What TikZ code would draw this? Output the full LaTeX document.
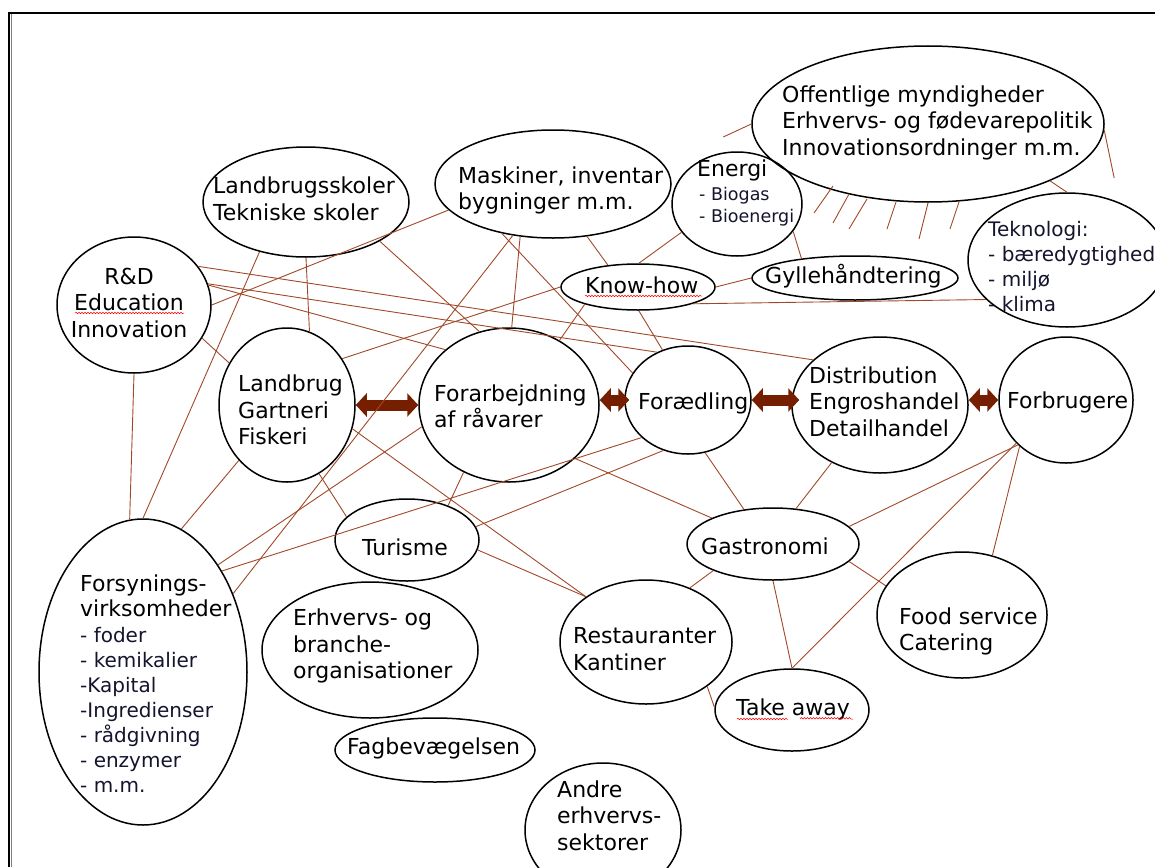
\documentclass[tikz,border=0pt]{standalone}
\usepackage{fontspec}
\setmainfont{DejaVu Sans}
\usetikzlibrary{shapes.geometric,arrows.meta,decorations.pathmorphing}

\definecolor{linkred}{RGB}{160,72,40}
\definecolor{flowred}{RGB}{118,30,0}
\definecolor{itemblue}{RGB}{20,20,45}

\tikzset{
  oval/.style={draw,ellipse,line width=1.5pt,inner sep=0pt},
  txt/.style={align=left,anchor=west,inner sep=0pt,font=\fontsize{22}{26.5}\selectfont},
  txtc/.style={txt,align=center,anchor=center},
  items/.style={txt,text=itemblue,font=\fontsize{20}{25}\selectfont},
  link/.style={draw=linkred,line width=0.9pt},
  flow/.style={draw=flowred,line width=11pt,{Triangle[width=23pt,length=11pt]}-{Triangle[width=23pt,length=11pt]}},
  squig/.style={red,line width=0.5pt,decorate,decoration={snake,amplitude=0.8pt,segment length=3pt}}
}

\begin{document}
\begin{tikzpicture}[x=1pt,y=-1pt]
\useasboundingbox (0,0) rectangle (1155,867);
% frame
\draw[line width=2pt] (9,867) -- (9,13) -- (1155,13);
\draw[gray,line width=1pt] (11.5,14) -- (11.5,867);

% ovals
\foreach \n/\x/\y/\rx/\ry in {off/928/124/176/78, energi/737/204/65/52,
    mask/553/184/118/54, lskole/306/202/103/55, rd/134/305/77/68,
    lbrug/287/405/68/77, forarb/509/405/90/77, foraed/688/400/63/54,
    dist/880/405/88/68, forbr/1066/400/67/63, know/638/287/77/23,
    gylle/855/278/103/22, tekn/1067/260/99/67, gastro/773/544/86/36,
    turisme/407/540/72/41, rest/646/642/86/62, take/792/710/77/41,
    food/962/615/85/63, fors/143/672/104/153, erhv/370/650/108/68,
    fag/435/750/100/32, andre/603/830/78/67}
  \node[oval,minimum width=2*\rx pt,minimum height=2*\ry pt] (\n) at (\x,\y) {};

% texts
\node[txt] (off-t) at (782,122.5) {Offentlige myndigheder\\Erhvervs- og fødevarepolitik\\Innovationsordninger m.m.};
\node[txt] (energi-t) at (697,170) {Energi};
\node[items,font=\fontsize{17.5}{22}\selectfont] (energi-l) at (699,207) {- Biogas\\- Bioenergi};
\node[txt] (mask-t) at (458,190.5) {Maskiner, inventar\\bygninger m.m.};
\node[txt] (lskole-t) at (213,199) {Landbrugsskoler\\Tekniske skoler};
\node[txtc] (rd-t) at (129,302.5) {R\&D\\Education\\Innovation};
\node[txt] (lbrug-t) at (238,410) {Landbrug\\Gartneri\\Fiskeri};
\node[txt] (forarb-t) at (434,406.5) {Forarbejdning\\af råvarer};
\node[txt] (foraed-t) at (638,403) {Forædling};
\node[txt] (dist-t) at (809,401.5) {Distribution\\Engroshandel\\Detailhandel};
\node[txt] (forbr-t) at (1007,402) {Forbrugere};
\node[txt] (know-t) at (585,285) {Know-how};
\node[txt] (gylle-t) at (765,276) {Gyllehåndtering};
\node[items] (tekn-t) at (988,267) {Teknologi:\\- bæredygtighed\\- miljø\\- klima};
\node[txt] (gastro-t) at (701,546) {Gastronomi};
\node[txt] (turisme-t) at (362,547) {Turisme};
\node[txt] (rest-t) at (573,649) {Restauranter\\Kantiner};
\node[txt] (take-t) at (736,709) {Take away};
\node[txt] (food-t) at (899,631.5) {Food service\\Catering};
\node[txt,font=\fontsize{22}{25}\selectfont] (fors-t) at (80,595.5) {Forsynings-\\virksomheder};
\node[items] (fors-l) at (80,709.5) {- foder\\- kemikalier\\-Kapital\\-Ingredienser\\- rådgivning\\- enzymer\\- m.m.};
\node[txt] (erhv-t) at (293,646) {Erhvervs- og\\branche-\\organisationer};
\node[txt] (fag-t) at (347,748) {Fagbevægelsen};
\node[txt] (andre-t) at (557,815.5) {Andre\\erhvervs-\\sektorer};

% spelling marks
\draw[squig] (75,313) -- (184,313);
\draw[squig] (585,296) -- (702,296);
\draw[squig] (737,719) -- (787,719) (800,719) -- (853,719);

% value chain
\draw[flow] (lbrug.east) -- (forarb.west);
\draw[flow] (forarb.east |- foraed.west) -- ([xshift=5]foraed.west);
\draw[flow] (foraed.east) -- ([xshift=8]dist.west |- foraed.east);
\draw[flow] (dist.east |- forbr.west) -- (forbr.west);

% links
\draw[link] (off.-25) edge (tekn.90)
      (energi.-26) edge (gylle.160)
      (energi.207) edge (know.88)
      (know.0) edge (gylle.180)
      (mask.-57) edge (know.144)
      (know.-17) edge (tekn.206)
      (know.-88) edge (foraed.117)
      (know.198) edge (forarb.52)
      (lbrug.40) edge (know.180)
      (mask.194) edge (rd.0)
      (mask.238) edge (forarb.88)
      (mask.232) edge (fors.41)
      (mask.224) edge (foraed.154)
      (lskole.-28) edge (forarb.112)
      (lskole.-90) edge (lbrug.73)
      (lskole.227) edge (fors.90)
      (rd.-90) edge (fors.95)
      (rd.-26) edge (lbrug.144)
      (rd.31) edge (dist.146)
      (rd.16) edge (foraed.123)
      (rd.15) edge (forarb.139)
      (lbrug.-20) edge (rest.143)
      (lbrug.-65) edge (turisme.159)
      (lbrug.229) edge (fors.75)
      (forarb.194) edge (fors.55)
      (foraed.219) edge (fors.52)
      (forarb.236) edge (turisme.40)
      (forarb.-39) edge (gastro.157)
      (turisme.11) edge (foraed.244)
      (turisme.-8) edge (rest.143)
      (foraed.-72) edge (gastro.130)
      (dist.230) edge (gastro.57)
      (forbr.223) edge (gastro.13)
      (forbr.221) edge (take.90)
      (forbr.225) edge (food.63)
      (gastro.-13) edge (food.159)
      (gastro.-90) edge (take.90)
      (gastro.204) edge (rest.51)
      (rest.-36) edge (take.178)
;
\draw[link] (off.180) -- ++(-28,13);
\draw[link] (off.-2) -- ++(10,48);
% hatching under the authorities
\foreach \x/\y/\u/\v in {833/186/814/213, 849/194/833/223, 867/199/849/229,
    896/202/887/229, 928/203/919/239, 959/202/950/229}
  \draw[link] (\x,\y) -- (\u,\v);
\end{tikzpicture}
\end{document}
